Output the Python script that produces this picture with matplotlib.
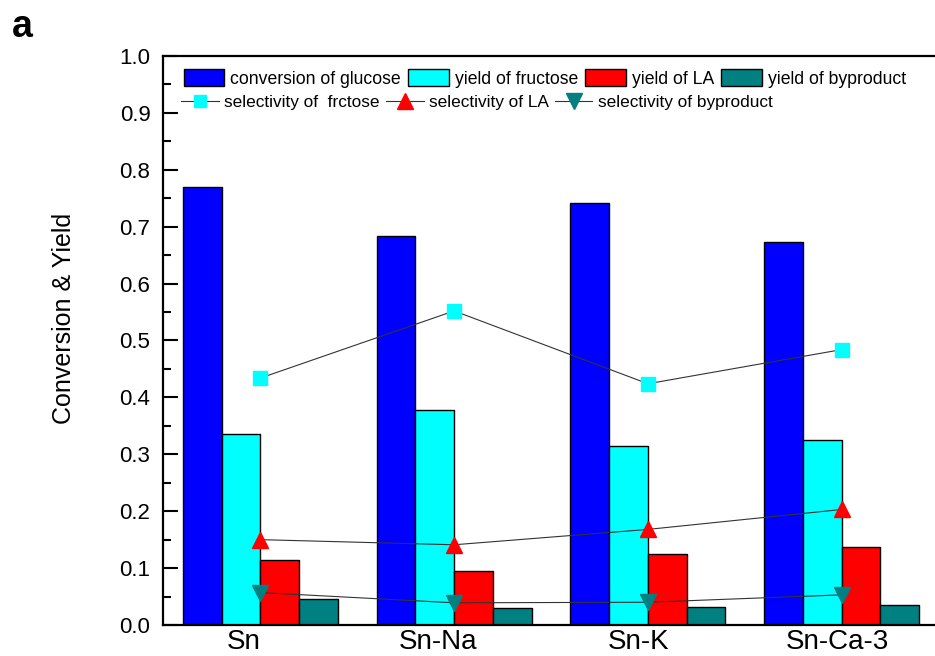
import numpy as np
import matplotlib.pyplot as plt
from matplotlib.patches import Patch
from matplotlib.lines import Line2D
from matplotlib.ticker import MultipleLocator, FormatStrFormatter

plt.rcParams['font.family'] = ['Liberation Sans', 'DejaVu Sans']

catalysts = ['Sn', 'Sn-Na', 'Sn-K', 'Sn-Ca-3']
conv_glucose = [0.770, 0.683, 0.742, 0.673]
yield_fructose = [0.335, 0.378, 0.315, 0.326]
yield_la = [0.115, 0.095, 0.125, 0.137]
yield_byprod = [0.045, 0.029, 0.031, 0.036]
sel_fructose = [0.434, 0.552, 0.424, 0.484]
sel_la = [0.150, 0.141, 0.168, 0.203]
sel_byprod = [0.057, 0.039, 0.040, 0.053]

bar_names = ['conversion of glucose', 'yield of fructose', 'yield of LA', 'yield of byproduct']
line_names = ['selectivity of  frctose', 'selectivity of LA', 'selectivity of byproduct']

x = np.arange(len(catalysts))
w = 0.2

fig = plt.figure(figsize=(9.35, 6.56), dpi=100)
ax = fig.add_axes([163/935, 1-625/656, 1-163/935, (625-56)/656])

bar_cols = ['#0000FF', '#00FFFF', '#FF0000', '#008080']
for k, (vals, c) in enumerate(zip([conv_glucose, yield_fructose, yield_la, yield_byprod], bar_cols)):
    ax.bar(x + (k - 1.5)*w, vals, w, color=c, edgecolor='black', linewidth=1.0, zorder=2)

ax.plot(x, sel_fructose, color='#333333', lw=0.8, marker='s', ms=9.5, mfc='#00FFFF', mec='#00FFFF', zorder=3)
ax.plot(x, sel_la, color='#333333', lw=0.8, marker='^', ms=11, mfc='#FF0000', mec='#FF0000', zorder=3)
ax.plot(x, sel_byprod, color='#333333', lw=0.8, marker='v', ms=11, mfc='#008080', mec='#008080', zorder=3)

ax.set_xlim(-0.503, 3.482)
ax.set_ylim(0, 1.0)
ax.yaxis.set_major_locator(MultipleLocator(0.1))
ax.yaxis.set_minor_locator(MultipleLocator(0.05))
ax.yaxis.set_major_formatter(FormatStrFormatter('%.1f'))
ax.tick_params(axis='y', which='major', direction='in', length=11, width=1.5, labelsize=16, pad=9)
ax.tick_params(axis='y', which='minor', direction='in', length=6, width=1.5)

label_shift = [-0.085, -0.084, -0.046, -0.024]
ax.set_xticks(x + np.array(label_shift))
ax.set_xticklabels(catalysts, fontsize=20)
ax.tick_params(axis='x', length=0, pad=3)

for s in ['left', 'bottom', 'top']:
    ax.spines[s].set_linewidth(1.6)
ax.spines['right'].set_visible(False)

ax.set_ylabel('Conversion & Yield', fontsize=18)
ax.yaxis.set_label_coords(-(163-76)/(935-163), (625-318)/(625-56))

bar_handles = [Patch(facecolor=c, edgecolor='black', lw=1.0) for c in bar_cols]
leg1 = ax.legend(bar_handles, bar_names, ncol=4, loc='upper left', bbox_to_anchor=(0.013, 0.995),
                 frameon=False, fontsize=12.7, handlelength=2.3, handleheight=1.1,
                 handletextpad=0.35, columnspacing=0.4, borderaxespad=0.2, borderpad=0.4)
ax.add_artist(leg1)

line_handles = [
    Line2D([], [], color='#333333', lw=0.8, marker='s', ms=9, mfc='#00FFFF', mec='#00FFFF'),
    Line2D([], [], color='#333333', lw=0.8, marker='^', ms=11, mfc='#FF0000', mec='#FF0000'),
    Line2D([], [], color='#333333', lw=0.8, marker='v', ms=11, mfc='#008080', mec='#008080'),
]
ax.legend(line_handles, line_names, ncol=3, loc='upper left', bbox_to_anchor=(0.01, 0.949),
          frameon=False, fontsize=12.4, handlelength=2.2, handletextpad=0.3,
          columnspacing=0.35, borderaxespad=0.2, borderpad=0.4)

fig.text(12/935, 1-37/656, 'a', fontsize=27, fontweight='bold')

fig.savefig('out.png', dpi=100)
